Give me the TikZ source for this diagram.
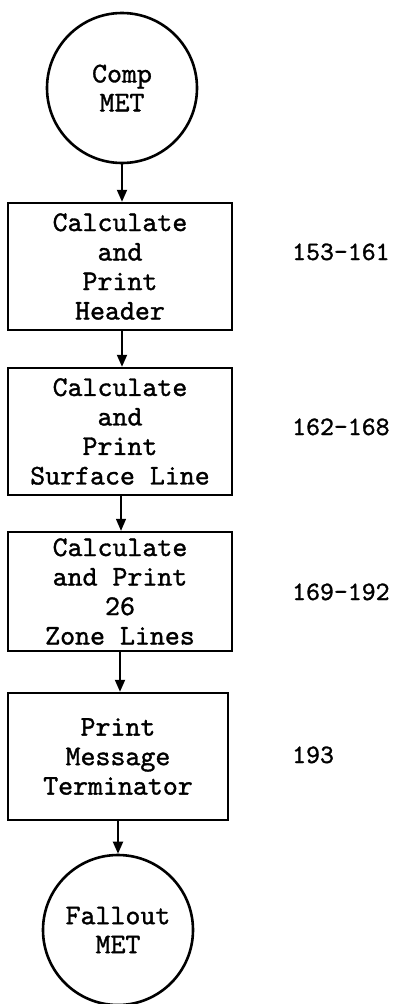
\documentclass[tikz,border=0pt]{standalone}
\usepackage{fontspec}
\newfontfamily\tw{lmmono10-regular.otf}[FakeBold=1.2]
\usetikzlibrary{arrows.meta}
\begin{document}
\begin{tikzpicture}[x=1pt,y=-1pt,
  boxnode/.style={draw, line width=2.4pt, minimum width=224pt, minimum height=127pt,
    inner sep=0pt, font=\tw\fontsize{28.5}{29.5}\selectfont, align=center},
  circnode/.style={draw, circle, line width=2.6pt, minimum size=150pt, inner sep=0pt,
    font=\tw\fontsize{28.5}{29}\selectfont, align=center},
  arr/.style={line width=1.9pt, -{Triangle[length=12pt,width=10pt]}},
  lab/.style={anchor=base west, inner sep=0pt, font=\tw\fontsize{26.5}{28}\selectfont}]
\useasboundingbox (0,0) rectangle (400,1004);
\node[circnode] (c1) at (122,88) {Comp\\MET};
\node[boxnode] (b1) at (120,266.5) {Calculate\\and\\Print\\Header};
\node[boxnode] (b2) at (120,431.5) {Calculate\\and\\Print\\Surface Line};
\node[boxnode, minimum height=119pt] (b3) at (120,591.5) {Calculate\\and Print\\26\\Zone Lines};
\node[boxnode, minimum width=220pt] (b4) at (118,756.5) {Print\\Message\\Terminator};
\node[circnode] (c2) at (118,930) {Fallout\\MET};
\node[lab] (l1) at (292,260) {153-161};
\node[lab] (l2) at (292,435) {162-168};
\node[lab] (l3) at (292,600) {169-192};
\node[lab] (l4) at (292,763) {193};
\draw[arr] (c1.south) -- (c1.south |- b1.north);
\draw[arr] ([xshift=2pt]b1.south) -- ([xshift=2pt]b2.north);
\draw[arr, line width=1.3pt] ([xshift=1pt]b2.south) -- ([xshift=1pt]b3.north);
\draw[arr] (b3.south) -- (b3.south |- b4.north);
\draw[arr] (b4.south) -- (c2.north);
\end{tikzpicture}
\end{document}
